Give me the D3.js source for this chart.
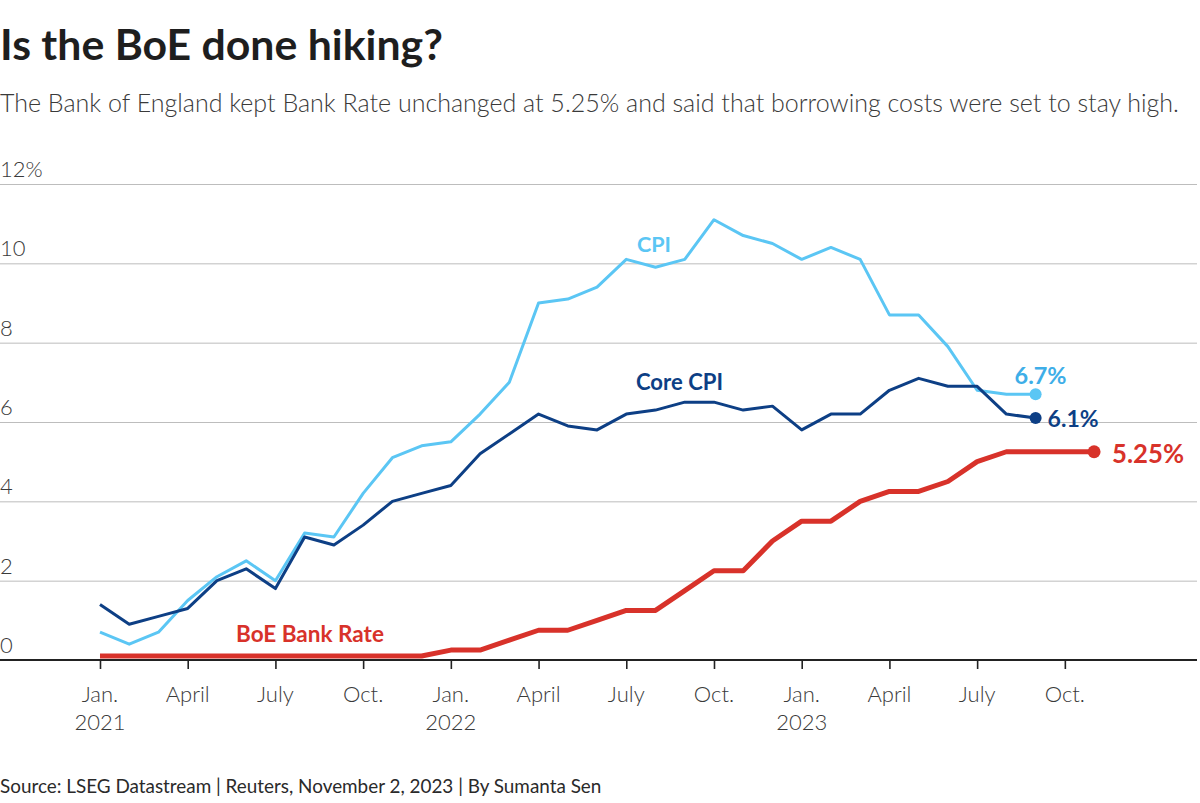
<!DOCTYPE html>
<html><head><meta charset="utf-8">
<script src="https://cdn.jsdelivr.net/npm/d3@7"></script>
<style>
html,body{margin:0;padding:0;background:#fff;}
svg{display:block;font-family:Lato,"Noto Sans",sans-serif;}
</style></head>
<body>
<svg id="chart" width="1200" height="803"></svg>
<script>
// ---- data (monthly, starting Jan. 2021) ----
const startYear = 2021;
const cpi = [0.7,0.4,0.7,1.5,2.1,2.5,2.0,3.2,3.1,4.2,5.1,5.4,
             5.5,6.2,7.0,9.0,9.1,9.4,10.1,9.9,10.1,11.1,10.7,10.5,
             10.1,10.4,10.1,8.7,8.7,7.9,6.8,6.7,6.7];
const coreCpi = [1.4,0.9,1.1,1.3,2.0,2.3,1.8,3.1,2.9,3.4,4.0,4.2,
                 4.4,5.2,5.7,6.2,5.9,5.8,6.2,6.3,6.5,6.5,6.3,6.4,
                 5.8,6.2,6.2,6.8,7.1,6.9,6.9,6.2,6.1];
const bankRate = [0.1,0.1,0.1,0.1,0.1,0.1,0.1,0.1,0.1,0.1,0.1,0.1,
                  0.25,0.25,0.5,0.75,0.75,1.0,1.25,1.25,1.75,2.25,2.25,3.0,
                  3.5,3.5,4.0,4.25,4.25,4.5,5.0,5.25,5.25,5.25,5.25];
const xTickMonths = [0,3,6,9,12,15,18,21,24,27,30,33];
const xTickLabels = ["Jan.","April","July","Oct.","Jan.","April","July","Oct.","Jan.","April","July","Oct."];
const xTickYears  = ["2021","","","","2022","","","","2023","","",""];
const yTicks = [0,2,4,6,8,10,12];
const yTickLabels = ["0","2","4","6","8","10","12%"];

const title = "Is the BoE done hiking?";
const subtitle = "The Bank of England kept Bank Rate unchanged at 5.25% and said that borrowing costs were set to stay high.";
const source = "Source: LSEG Datastream | Reuters, November 2, 2023 | By Sumanta Sen";

const C_CPI = "#5bc6f4", C_CPI_LBL = "#3eaee8", C_CORE = "#0d3f85", C_RATE = "#d8322a";

const svg = d3.select("#chart");
const x = d3.scaleLinear().domain([-3.42, 37.52]).range([0, 1197]);
const y = d3.scaleLinear().domain([0, 12]).range([660, 184]);

function fit(sel, w){
  const len = sel.node().getComputedTextLength();
  const fs = parseFloat(sel.attr("font-size"));
  sel.attr("font-size", fs * w / len);
}

// title / subtitle
fit(svg.append("text").attr("x",0).attr("y",60).attr("font-size",38).attr("font-weight",700)
   .attr("fill","#1e1e1e").text(title), 443);
fit(svg.append("text").attr("x",0).attr("y",112).attr("font-size",23).attr("font-weight",300)
   .attr("fill","#3a3a3a").text(subtitle), 1180);

// grid
const g = svg.append("g");
g.selectAll("line.grid").data(yTicks.filter(d=>d>0)).join("line")
  .attr("x1",0).attr("x2",1197).attr("y1",d=>y(d)+0.5).attr("y2",d=>y(d)+0.5)
  .attr("stroke","#bdbdbd").attr("stroke-width",1);
g.selectAll("text.ylab").data(yTicks).join("text")
  .attr("x",0).attr("y",d=>y(d)-7).attr("font-size",22).attr("font-weight",300)
  .attr("fill","#3a3a3a").text((d,i)=>yTickLabels[i]);

// x axis
const xAxis = d3.axisBottom(x).tickValues(xTickMonths).tickSize(9).tickFormat(()=> "");
const ax = g.append("g").attr("transform","translate(0,660)").call(xAxis);
ax.select(".domain").attr("stroke","#222").attr("stroke-width",2).attr("d","M0,0H1197");
ax.selectAll(".tick line").attr("stroke","#222").attr("stroke-width",1.6);
g.selectAll("text.xlab").data(xTickMonths).join("text")
  .attr("x",d=>x(d)).attr("y",702).attr("text-anchor","middle").attr("font-size",22)
  .attr("font-weight",300).attr("fill","#3a3a3a").text((d,i)=>xTickLabels[i]);
g.selectAll("text.xyr").data(xTickMonths.filter((d,i)=>xTickYears[i])).join("text")
  .attr("x",d=>x(d)).attr("y",730).attr("text-anchor","middle").attr("font-size",22)
  .attr("font-weight",300).attr("fill","#3a3a3a").text(d=>xTickYears[xTickMonths.indexOf(d)]);

// lines
const line = d3.line().x((d,i)=>x(i)).y(d=>y(d));
g.append("path").datum(bankRate).attr("d",line).attr("fill","none")
  .attr("stroke",C_RATE).attr("stroke-width",5).attr("stroke-linejoin","round");
g.append("path").datum(cpi).attr("d",line).attr("fill","none")
  .attr("stroke",C_CPI).attr("stroke-width",3).attr("stroke-linejoin","round");
g.append("path").datum(coreCpi).attr("d",line).attr("fill","none")
  .attr("stroke",C_CORE).attr("stroke-width",3).attr("stroke-linejoin","round");

// end dots
const ends = [
  {arr:cpi, col:C_CPI, r:6},
  {arr:coreCpi, col:C_CORE, r:6},
  {arr:bankRate, col:C_RATE, r:6.5}
];
ends.forEach(e=>{
  const i = e.arr.length-1;
  g.append("circle").attr("cx",x(i)).attr("cy",y(e.arr[i])).attr("r",e.r).attr("fill",e.col);
});

// labels
function lbl(txt,xx,yy,fs,col,w){
  const t = g.append("text").attr("x",xx).attr("y",yy).attr("font-size",fs)
    .attr("font-weight",700).attr("fill",col).text(txt);
  if(w) fit(t,w);
}
lbl("CPI",637,252,21,C_CPI,34);
lbl("Core CPI",636,390,21,C_CORE,87);
lbl("BoE Bank Rate",236,642,21,C_RATE,148);
lbl(cpi[cpi.length-1]+"%", x(cpi.length-1)-21, 384, 20, C_CPI_LBL, 52);
lbl(coreCpi[coreCpi.length-1]+"%", x(coreCpi.length-1)+12, 427, 20, C_CORE, 51);
lbl(bankRate[bankRate.length-1]+"%", x(bankRate.length-1)+18, 463, 24, C_RATE, 72);

// source
fit(svg.append("text").attr("x",0).attr("y",793).attr("font-size",19).attr("font-weight",400)
   .attr("fill","#2a2a2a").text(source), 602);
</script>
</body></html>
